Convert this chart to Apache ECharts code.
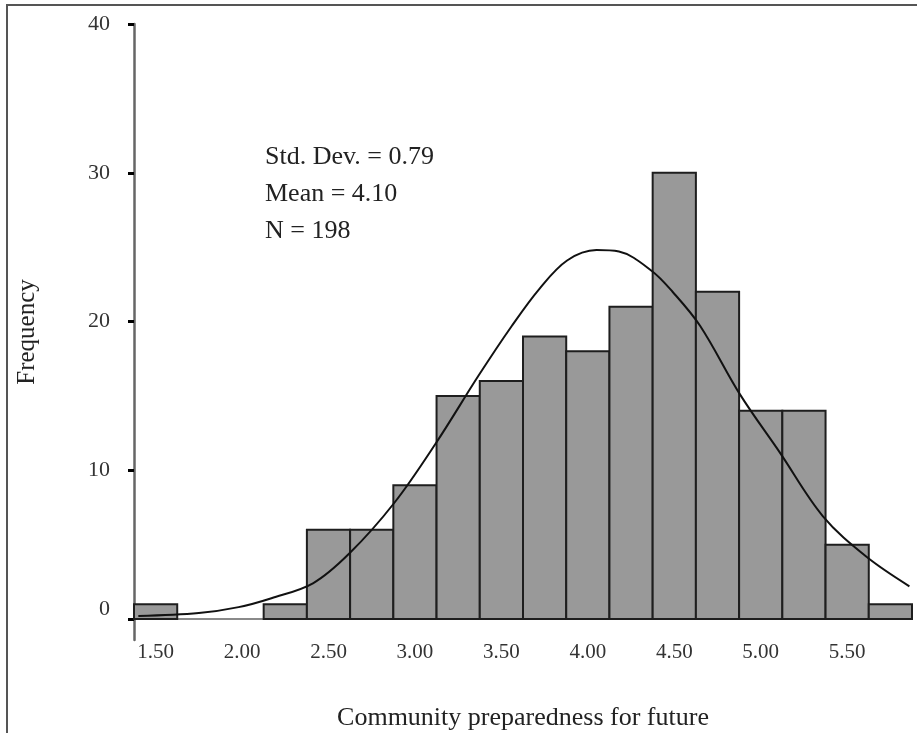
<!DOCTYPE html>
<html>
<head>
<meta charset="utf-8">
<script src="https://cdn.jsdelivr.net/npm/echarts@6/dist/echarts.min.js"></script>
<style>
  html, body { margin: 0; padding: 0; background: #ffffff; }
  #chart { width: 917px; height: 733px; }
</style>
</head>
<body>
<div id="chart"></div>
<script>
// Histogram bins: centre of each bin and its frequency
const binWidth = 0.25;
const binCenters = [1.50, 1.75, 2.00, 2.25, 2.50, 2.75, 3.00, 3.25, 3.50,
                    3.75, 4.00, 4.25, 4.50, 4.75, 5.00, 5.25, 5.50, 5.75];
const frequencies = [1, 0, 0, 1, 6, 6, 9, 15, 16, 19, 18, 21, 30, 22, 14, 14, 5, 1];

// Fitted normal curve, sampled points [score, frequency]
const curveX = [1.40, 1.75, 1.98, 2.17, 2.41, 2.62, 2.88, 3.12, 3.37, 3.56, 3.72,
                3.88, 4.05, 4.18, 4.37, 4.49, 4.65, 4.88, 5.11, 5.36, 5.61, 5.86];
const curveY = [0.2, 0.4, 0.8, 1.4, 2.4, 4.4, 7.8, 11.8, 16.4, 19.7, 22.2,
                24.1, 24.8, 24.7, 23.4, 22.0, 19.7, 15.1, 11.2, 6.9, 4.2, 2.2];

// Axis ticks
const xTicks = [1.5, 2.0, 2.5, 3.0, 3.5, 4.0, 4.5, 5.0, 5.5];
const yTicks = [0, 10, 20, 30, 40];

// Summary statistics
const statLines = ['Std. Dev. = 0.79', 'Mean = 4.10', 'N = 198'];

const serif = '"Liberation Serif", "Times New Roman", serif';

const chart = echarts.init(document.getElementById('chart'), null, { renderer: 'canvas' });

const barData = binCenters.map((c, i) => [c, frequencies[i]]);
const curveData = curveX.map((x, i) => [x, curveY[i]]);

chart.setOption({
  backgroundColor: '#ffffff',
  animation: false,
  grid: {
    left: 134, right: 5, top: 24, bottom: 93,
    containLabel: false,
    outerBoundsMode: 'none'
  },
  xAxis: {
    type: 'value',
    min: binCenters[0] - binWidth / 2,
    max: binCenters[binCenters.length - 1] + binWidth / 2,
    name: 'Community preparedness for future',
    nameLocation: 'middle',
    nameGap: 65,
    nameTextStyle: { fontFamily: serif, fontSize: 26, color: '#222' },
    axisLine: { show: true, onZero: true, lineStyle: { color: '#8a8a8a', width: 2 } },
    axisTick: { show: false },
    splitLine: { show: false },
    axisLabel: {
      customValues: xTicks,
      formatter: v => v.toFixed(2),
      margin: 2,
      fontFamily: serif,
      fontSize: 21,
      color: '#333'
    }
  },
  yAxis: {
    type: 'value',
    min: -1.41,
    max: 40,
    name: 'Frequency',
    nameLocation: 'middle',
    nameRotate: 90,
    nameGap: 94,
    nameTextStyle: { fontFamily: serif, fontSize: 25, color: '#222' },
    axisLine: { show: true, lineStyle: { color: '#666', width: 2.5 } },
    axisTick: {
      show: true, customValues: yTicks, length: 6, inside: false,
      lineStyle: { color: '#000', width: 3 }
    },
    splitLine: { show: false },
    axisLabel: {
      customValues: yTicks,
      margin: 24,
      fontFamily: serif,
      fontSize: 22,
      color: '#333',
      formatter: v => (v === 0 ? '{z|0}' : String(v)),
      rich: {
        z: { fontFamily: serif, fontSize: 22, color: '#333', padding: [0, 0, 20, 0] }
      }
    }
  },
  series: [
    {
      type: 'custom',
      data: barData,
      z: 3,
      renderItem: function (params, api) {
        const c = api.value(0);
        const f = api.value(1);
        if (f <= 0) return null;
        const topLeft = api.coord([c - binWidth / 2, f]);
        const bottomRight = api.coord([c + binWidth / 2, 0]);
        return {
          type: 'rect',
          shape: {
            x: topLeft[0],
            y: topLeft[1],
            width: bottomRight[0] - topLeft[0],
            height: bottomRight[1] - topLeft[1]
          },
          style: { fill: '#999999', stroke: '#1e1e1e', lineWidth: 2 }
        };
      }
    },
    {
      type: 'line',
      data: curveData,
      smooth: 0.35,
      symbol: 'none',
      z: 5,
      lineStyle: { color: '#111', width: 2 }
    }
  ],
  graphic: [
    {
      type: 'rect',
      shape: { x: 7, y: 5, width: 960, height: 800 },
      style: { fill: 'none', stroke: '#555', lineWidth: 2 },
      silent: true
    },
    {
      type: 'text',
      x: 265,
      y: 139,
      style: {
        text: statLines.join('\n'),
        font: '26px ' + serif,
        fill: '#222',
        lineHeight: 37,
        verticalAlign: 'top'
      }
    }
  ]
});
</script>
</body>
</html>
